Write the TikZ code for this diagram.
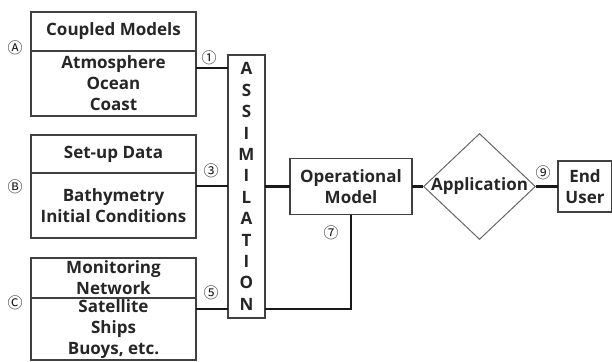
\documentclass[tikz,border=0pt]{standalone}
\usepackage{fontspec}
\setmainfont{Open Sans}
\newfontfamily\symfont{Noto Sans CJK KR}
\usetikzlibrary{positioning, shapes.geometric}

\tikzset{
  part/.style={draw=black!75, line width=1.3pt, outer sep=0pt, inner sep=0pt,
    minimum width=165pt, align=center, text=black!85,
    font=\bfseries\fontsize{17}{21}\selectfont},
  link/.style={line width=2.4pt, black!90},
  tag/.style={font=\symfont\fontsize{15}{15}\selectfont, text=black!90, inner sep=0pt}
}

\begin{document}
\begin{tikzpicture}[x=1pt, y=-1pt]
    \useasboundingbox (0,0) rectangle (612,361);

    \node[part, minimum height=39pt]                 (A top) at (113.5,31.5) {Coupled Models};
    \node[part, minimum height=65pt, below=0pt of A top]  (A bot)  {Atmosphere\\Ocean\\Coast};
    \node[part, minimum height=38pt, below=19pt of A bot] (B top)  {Set-up Data};
    \node[part, minimum height=65pt, below=0pt of B top]  (B bot)  {Bathymetry\\Initial Conditions};
    \node[part, minimum height=40pt, below=20pt of B bot] (C top)  {Monitoring\\Network};
    \node[part, minimum height=62pt, below=0pt of C top]  (C bot)  {Satellite\\Ships\\Buoys, etc.};

    \node[part, minimum width=37pt, minimum height=263pt,
          font=\bfseries\fontsize{17}{21.4}\selectfont] (Assim) at (246.5,186.5)
          {A\\S\\S\\I\\M\\I\\L\\A\\T\\I\\O\\N};

    \node[part, minimum width=122pt, minimum height=56pt, right=25pt of Assim] (Op)   {Operational\\Model};
    \node[diamond, draw=black!60, line width=1pt, inner sep=0pt,
          minimum width=112pt, minimum height=106pt, right=11pt of Op]          (App)  {};
    \node[font=\bfseries\fontsize{17}{21}\selectfont, text=black!85]            (App text) at (App) {Application};
    \node[part, minimum width=54pt, minimum height=51pt, right=22pt of App]    (User) {End\\User};

    % connectors
    \coordinate (c1) at ([yshift=15.5pt]A bot.east);
    \coordinate (c3) at ([yshift=19.5pt]B bot.east);
    \coordinate (c5) at ([yshift=20pt]C bot.east);
    \draw[link] (c1) -- (c1 -| Assim.west);
    \draw[link] (c3) -- (c3 -| Assim.west);
    \draw[link] (c5) -- (c5 -| Assim.west);
    \draw[link] (Assim.east) -- (Op.west);
    \draw[link] (Op.south) -- (Op.south |- c5) -- (c5 -| Assim.east);
    \draw[link] (Op.east) -- (App.west);
    \draw[link] (App.east) -- (User.west);

    % circled tags
    \node[tag] (tag A) at (15,48)   {Ⓐ};
    \node[tag] (tag B) at (15,187)  {Ⓑ};
    \node[tag] (tag C) at (15,303)  {Ⓒ};
    \node[tag] (tag 1) at (209,58)  {①};
    \node[tag] (tag 3) at (211,171) {③};
    \node[tag] (tag 5) at (211,293) {⑤};
    \node[tag] (tag 7) at (331,233) {⑦};
    \node[tag] (tag 9) at (543,173) {⑨};
\end{tikzpicture}
\end{document}
